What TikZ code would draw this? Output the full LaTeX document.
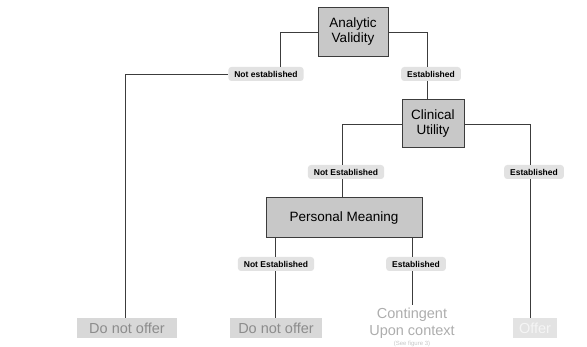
\documentclass[tikz,border=0pt]{standalone}
\usepackage{fontspec}
\setmainfont{Liberation Sans}
\usetikzlibrary{positioning}
\definecolor{boxgray}{RGB}{200,200,200}
\definecolor{taggray}{RGB}{226,226,226}
\definecolor{resgray}{RGB}{216,216,216}
\definecolor{restext}{RGB}{140,140,140}
\definecolor{linegray}{RGB}{60,60,60}
\tikzstyle{block} = [draw = linegray, fill = boxgray, line width = 1pt, align = center, font = \fontsize{13.5}{15}\selectfont]
\tikzstyle{tag} = [fill = taggray, rounded corners = 3pt, inner xsep = 6pt, minimum height = 14pt, font = \fontsize{8.5}{9}\selectfont\bfseries]
\tikzstyle{result} = [fill = resgray, text = restext, minimum height = 20pt, inner xsep = 2pt, font = \fontsize{14.5}{15}\selectfont]
\tikzstyle{link} = [line width = 0.9pt, draw = linegray]

\begin{document}
\begin{tikzpicture}[x = 1pt, y = -1pt]
	
		\useasboundingbox (0,0) rectangle (587,347);
		
		% Decision boxes
		\node[block, minimum width = 70pt, minimum height = 49pt] (valid) at (353,32) {Analytic\\Validity};
		\node[block, minimum width = 62pt, minimum height = 48pt] (util) at (433,124) {Clinical\\Utility};
		\node[block, minimum width = 156pt, minimum height = 40pt] (meaning) at (344,218) {Personal Meaning};
		
		% Labels on the branches
		\node[tag] (vno) at (266,74) {Not established};
		\node[tag] (vyes) at (431,74) {Established};
		\node[tag] (uno) at (346,172) {Not Established};
		\node[tag] (uyes) at (534,172) {Established};
		\node[tag] (mno) at (276,264) {Not Established};
		\node[tag] (myes) at (416,264) {Established};
		
		% Outcomes
		\node[result, minimum width = 100pt] (out1) at (127,328) {Do not offer};
		\node[result, minimum width = 92pt] (out2) at (276,328) {Do not offer};
		\node[align = center, text = black!32, font = \fontsize{14.5}{17}\selectfont] (out3) at (412,323) {Contingent\\Upon context};
		\node[below = -4pt of out3, text = black!22, font = \fontsize{6}{6}\selectfont] (out3b) {(See figure 3)};
		\node[result, minimum width = 44pt, fill = black!11, text = black!4] (out4) at (535,328) {Offer};
		
		% Connect all nodes defined above
		\draw[link] (valid.west) -| ([xshift = 14pt]vno.north);
		\draw[link] (vno.west) -| ([xshift = -2pt]out1.north);
		\draw[link] (valid.east) -| ([xshift = -4pt]vyes.north);
		\draw[link] ([xshift = -4pt]vyes.south) -- ([xshift = -6pt]util.north);
		\draw[link] (util.west) -| ([xshift = -4pt]uno.north);
		\draw[link] ([xshift = -4pt]uno.south) -- ([xshift = -2pt]meaning.north);
		\draw[link] (util.east) -| ([xshift = -4pt]uyes.north);
		\draw[link] ([xshift = -4pt]uyes.south) -- ([xshift = -5pt]out4.north);
		\draw[link] ([xshift = -69pt]meaning.south) -- ([xshift = -1pt]mno.north);
		\draw[link] ([xshift = -1pt]mno.south) -- ([xshift = -1pt]out2.north);
		\draw[link] ([xshift = 68pt]meaning.south) -- ([xshift = -4pt]myes.north);
		\draw[link] ([xshift = -4pt]myes.south) -- ++(0,34);
	
	\end{tikzpicture}
\end{document}
